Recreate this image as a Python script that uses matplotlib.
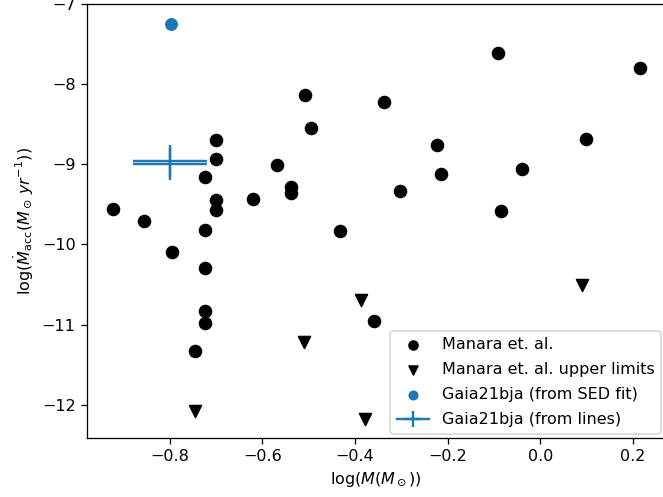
import matplotlib
matplotlib.use("Agg")
import matplotlib.pyplot as plt

# Manara et al. detections
manara_logm = [-0.922, -0.856, -0.796, -0.700, -0.700, -0.723, -0.700, -0.700,
               -0.723, -0.723, -0.723, -0.723, -0.745, -0.620, -0.569, -0.539,
               -0.539, -0.508, -0.495, -0.433, -0.338, -0.302, -0.222, -0.214,
               -0.091, -0.085, -0.040, 0.098, 0.215, -0.358]
manara_logmacc = [-9.56, -9.71, -10.09, -8.70, -8.94, -9.16, -9.45, -9.57,
                  -9.82, -10.29, -10.83, -10.98, -11.33, -9.44, -9.01, -9.28,
                  -9.36, -8.14, -8.55, -9.83, -8.23, -9.33, -8.76, -9.12,
                  -7.61, -9.58, -9.06, -8.69, -7.80, -10.96]

# Manara et al. upper limits
ul_logm = [-0.388, -0.509, 0.090, -0.745, -0.378]
ul_logmacc = [-10.69, -11.21, -10.50, -12.07, -12.17]

# Gaia21bja
sed_logm = [-0.797]
sed_logmacc = [-7.25]
lines_logm = [-0.80, -0.80]
lines_logmacc = [-9.00, -8.96]
lines_xerr = 0.08
lines_yerr = 0.2

DPI = 115
fig = plt.figure(figsize=(663 / DPI, 497 / DPI), dpi=DPI)
ax = fig.add_axes([0.1308, 0.1181, 0.8729, 0.8748])

ax.scatter(manara_logm, manara_logmacc, s=56, color='k', label='Manara et. al.')
ax.scatter(ul_logm, ul_logmacc, s=56, marker='v', color='k',
           label='Manara et. al. upper limits')
ax.scatter(sed_logm, sed_logmacc, s=50, color='C0', label='Gaia21bja (from SED fit)')
ax.errorbar(lines_logm[0], lines_logmacc[0], xerr=lines_xerr, yerr=lines_yerr,
            color='C0', label='Gaia21bja (from lines)')
ax.errorbar(lines_logm[1], lines_logmacc[1], xerr=lines_xerr, yerr=lines_yerr,
            color='C0')

ax.set_xlim(-0.979, 0.27)
ax.set_ylim(-12.415, -7.0)
ax.set_xlabel(r'log($M(M_\odot)$)')
ax.set_ylabel(r'log($\dot{M}_{\mathrm{acc}}(M_\odot\, yr^{-1})$)')
ax.legend(loc='lower right', markerscale=0.75, labelspacing=0.62,
          borderaxespad=0.3)

fig.savefig('out.png', dpi=DPI)
